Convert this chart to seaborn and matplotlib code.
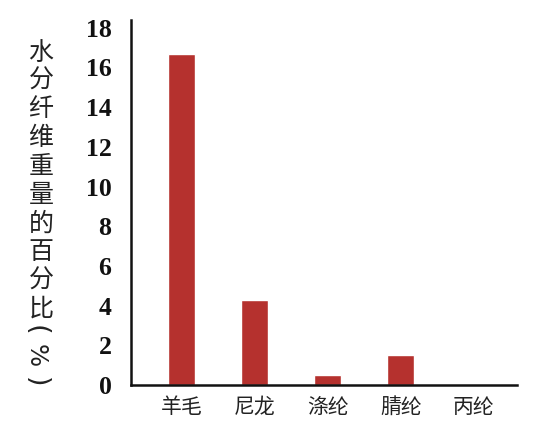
import matplotlib
matplotlib.use("Agg")
import matplotlib.pyplot as plt
import matplotlib.transforms as mtransforms
import seaborn as sns
import pandas as pd

categories = ["羊毛", "尼龙", "涤纶", "腈纶", "丙纶"]
values = [16.7, 4.3, 0.5, 1.5, 0.0]
yticks = [0, 2, 4, 6, 8, 10, 12, 14, 16, 18]
ylabel_chars = "水分纤维重量的百分比"
ylabel_unit = ["(", "%", ")"]

sns.set_theme(style="white")
plt.rcParams['font.family'] = ['Noto Sans CJK SC', 'DejaVu Sans']

df = pd.DataFrame({"cat": categories, "val": values})

W, H = 550, 432
fig = plt.figure(figsize=(5.5, 4.32), dpi=100)
ax = fig.add_axes([0.238, 0.109, 0.702, 0.845])
sns.barplot(data=df, x="cat", y="val", color="#B5312E", saturation=1,
            width=0.37, ax=ax)
ax.set_xlim(-0.70, 4.59)
ax.set_ylim(0, 18.4)
ax.set_yticks(yticks)
ax.set_yticklabels([str(t) for t in yticks], family="Liberation Serif",
                   fontweight="bold", fontsize=18.5, color="#111111")
offset = mtransforms.ScaledTranslation(0, 4 / 100, fig.dpi_scale_trans)
for lab in ax.get_yticklabels():
    lab.set_transform(lab.get_transform() + offset)
for lab in ax.get_xticklabels():
    lab.set_fontsize(15)
    lab.set_color("#222222")
ax.tick_params(axis="y", length=0, pad=14)
ax.tick_params(axis="x", length=0, pad=8)
ax.set_xlabel("")
ax.set_ylabel("")
for s in ["top", "right"]:
    ax.spines[s].set_visible(False)
for s in ["left", "bottom"]:
    ax.spines[s].set_color("#111111")
    ax.spines[s].set_linewidth(1.8)

# vertical (stacked) y label
x_lab = 41 / W
for i, ch in enumerate(ylabel_chars):
    y_px = 52.5 + 28.5 * i
    fig.text(x_lab, 1 - y_px / H, ch, ha="center", va="center",
             fontsize=18, color="#222222")
for ch, x_px, y_px, fs in zip(ylabel_unit, [35.5, 36, 35.5],
                              [330, 356, 382], [19.5, 17.5, 19.5]):
    fig.text(x_px / W, 1 - y_px / H, ch, ha="center", va="center",
             rotation=-90, fontsize=fs, color="#222222",
             family="DejaVu Sans")

fig.savefig("out.png", dpi=100)
